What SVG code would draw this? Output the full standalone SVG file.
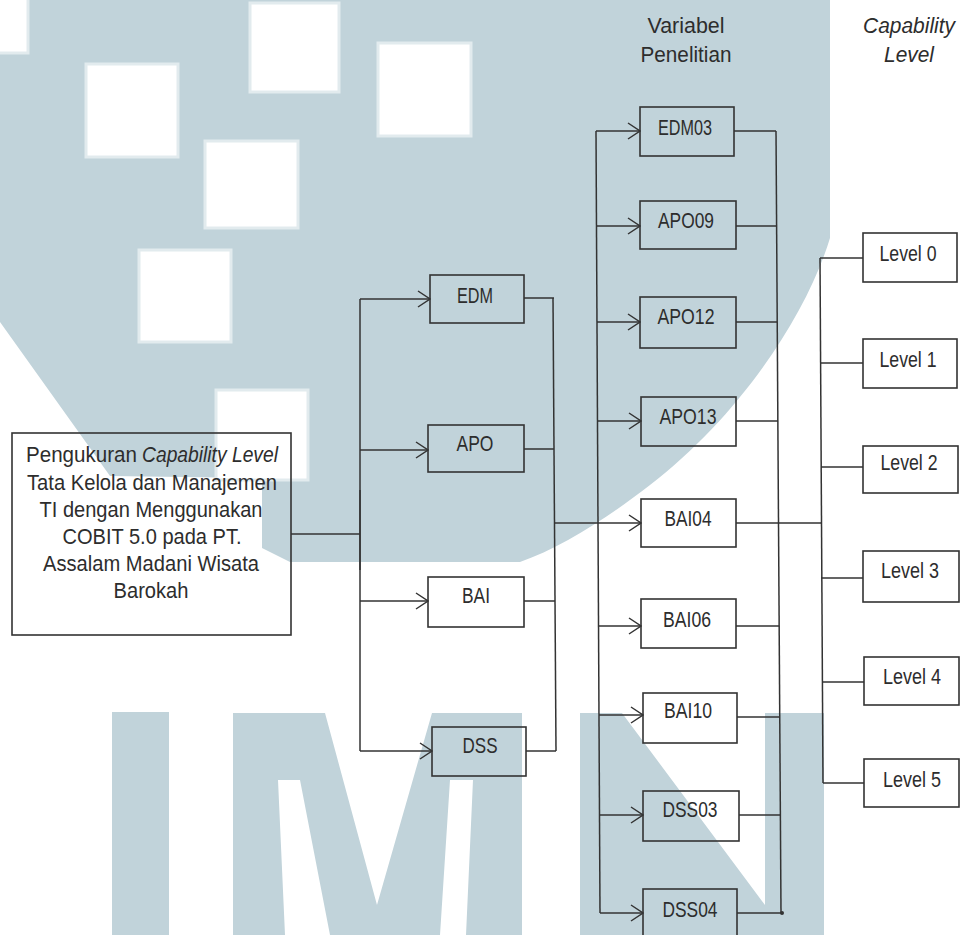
<svg xmlns="http://www.w3.org/2000/svg" width="963" height="935" viewBox="0 0 963 935">
<style>
.wm{fill:#c1d3da}
.hole{fill:#ffffff;stroke:#e2ebee;stroke-width:3}
.box{fill:none;stroke:#333;stroke-width:1.6}
.t{font-family:"Liberation Sans",Arial,sans-serif;font-size:22px;fill:#2d2d2d;text-anchor:middle}
.st{text-anchor:start}
.it{font-style:italic}
.ln{fill:none;stroke:#333;stroke-width:1.5}
</style>
<defs>
<marker id="arr" viewBox="0 0 14 18" refX="13" refY="9" markerWidth="14" markerHeight="18" markerUnits="userSpaceOnUse" orient="auto">
<path d="M1,1 L13,9 L1,17" fill="none" stroke="#333" stroke-width="1.5"/>
</marker>
</defs>
<rect width="963" height="935" fill="#ffffff"/>
<g id="watermark">
<path class="wm" d="M0,0 H830 V238 C805,320 735,420 650,485 C605,520 560,548 520,562 H290 L262,548 V478 L110,476 L0,322 Z"/>
<rect class="hole" x="-3" y="-3" width="31" height="56"/>
<rect class="hole" x="86" y="64" width="92" height="93"/>
<rect class="hole" x="250" y="3" width="89" height="89"/>
<rect class="hole" x="378" y="43" width="93" height="93"/>
<rect class="hole" x="205" y="141" width="93" height="87"/>
<rect class="hole" x="139" y="250" width="92" height="92"/>
<rect class="hole" x="216" y="390" width="92" height="90"/>
<rect class="wm" x="112" y="712" width="57" height="223"/>
<path class="wm" fill-rule="evenodd" d="M233,713 H522 V935 H233 Z M325,713 H432 L377,905 Z M278,780 H300 L330,935 H285 Z M450,780 H473 L466,935 H440 Z"/>
<path class="wm" fill-rule="evenodd" d="M580,713 H824 V935 H580 Z M622,713 H765 V905 Z"/>
</g>
<g id="connectors">
<path class="ln" d="M291,534 H360" stroke-width="3"/>
<path class="ln" d="M360,299 V751"/>
<path class="ln" d="M360,490 V570" stroke-width="2.5"/>
<path class="ln" d="M360,299 H430" marker-end="url(#arr)"/>
<path class="ln" d="M360,450 H428" marker-end="url(#arr)"/>
<path class="ln" d="M360,601 H428" marker-end="url(#arr)"/>
<path class="ln" d="M360,751 H432" marker-end="url(#arr)"/>
<path class="ln" d="M524,298 H554 M524,449 H554 M524,601 H555 M526,751 H556"/>
<path class="ln" d="M553,298 L556,751"/>
<path class="ln" d="M554,523 H641" marker-end="url(#arr)"/>
<path class="ln" d="M596,131 L600,913"/>
<path class="ln" d="M596,131 H640" marker-end="url(#arr)"/>
<path class="ln" d="M597,226 H640" marker-end="url(#arr)"/>
<path class="ln" d="M597,322 H640" marker-end="url(#arr)"/>
<path class="ln" d="M597,421 H641" marker-end="url(#arr)"/>
<path class="ln" d="M599,626 H641" marker-end="url(#arr)"/>
<path class="ln" d="M599,715 H643" marker-end="url(#arr)"/>
<path class="ln" d="M600,815 H643" marker-end="url(#arr)"/>
<path class="ln" d="M600,913 H643" marker-end="url(#arr)"/>
<path class="ln" d="M734,131 H776 M736,226 H777 M736,322 H777 M736,421 H778 M736,523 H821 M736,626 H779 M737,717 H779 M739,815 H780 M737,913 H782"/>
<path class="ln" d="M776,131 L781,913"/>
<circle cx="782" cy="913" r="2" fill="#333"/>
<path class="ln" d="M820,258 L823,783"/>
<path class="ln" d="M820,258 H863 M821,363 H863 M821,467 H863 M821,578 H863 M822,682 H864 M823,783 H864"/>
</g>
<g id="headers">
<text class="t" x="686" y="33" textLength="77" lengthAdjust="spacingAndGlyphs">Variabel</text>
<text class="t" x="686" y="62" textLength="91" lengthAdjust="spacingAndGlyphs">Penelitian</text>
<text class="t it" x="909" y="33" textLength="92" lengthAdjust="spacingAndGlyphs">Capability</text>
<text class="t it" x="909" y="62" textLength="50" lengthAdjust="spacingAndGlyphs">Level</text>
</g>
<g id="main">
<rect class="box" x="12" y="433" width="279" height="202"/>
<text class="t st" x="26" y="462" textLength="111" lengthAdjust="spacingAndGlyphs">Pengukuran</text>
<text class="t st it" x="142" y="462" textLength="136" lengthAdjust="spacingAndGlyphs">Capability Level</text>
<text class="t" x="152" y="490" textLength="250" lengthAdjust="spacingAndGlyphs">Tata Kelola dan Manajemen</text>
<text class="t" x="151" y="517" textLength="223" lengthAdjust="spacingAndGlyphs">TI dengan Menggunakan</text>
<text class="t" x="152" y="544" textLength="179" lengthAdjust="spacingAndGlyphs">COBIT 5.0 pada PT.</text>
<text class="t" x="151" y="571" textLength="216" lengthAdjust="spacingAndGlyphs">Assalam Madani Wisata</text>
<text class="t" x="151" y="598" textLength="75" lengthAdjust="spacingAndGlyphs">Barokah</text>
</g>
<g id="EDM"><rect class="box" x="430" y="275" width="94" height="48"/><text class="t" x="475" y="303" textLength="36" lengthAdjust="spacingAndGlyphs">EDM</text></g>
<g id="APO"><rect class="box" x="428" y="425" width="96" height="47"/><text class="t" x="475" y="451" textLength="37" lengthAdjust="spacingAndGlyphs">APO</text></g>
<g id="BAI"><rect class="box" x="428" y="577" width="96" height="50"/><text class="t" x="476" y="603" textLength="28" lengthAdjust="spacingAndGlyphs">BAI</text></g>
<g id="DSS"><rect class="box" x="432" y="727" width="94" height="49"/><text class="t" x="480" y="753" textLength="35" lengthAdjust="spacingAndGlyphs">DSS</text></g>
<g id="EDM03"><rect class="box" x="640" y="107" width="94" height="49"/><text class="t" x="685" y="135" textLength="54" lengthAdjust="spacingAndGlyphs">EDM03</text></g>
<g id="APO09"><rect class="box" x="640" y="201" width="96" height="48"/><text class="t" x="686" y="228" textLength="56" lengthAdjust="spacingAndGlyphs">APO09</text></g>
<g id="APO12"><rect class="box" x="640" y="297" width="96" height="51"/><text class="t" x="686" y="324" textLength="57" lengthAdjust="spacingAndGlyphs">APO12</text></g>
<g id="APO13"><rect class="box" x="641" y="397" width="95" height="49"/><text class="t" x="688" y="424" textLength="57" lengthAdjust="spacingAndGlyphs">APO13</text></g>
<g id="BAI04"><rect class="box" x="641" y="499" width="95" height="48"/><text class="t" x="688" y="526" textLength="47" lengthAdjust="spacingAndGlyphs">BAI04</text></g>
<g id="BAI06"><rect class="box" x="641" y="599" width="95" height="49"/><text class="t" x="687" y="627" textLength="48" lengthAdjust="spacingAndGlyphs">BAI06</text></g>
<g id="BAI10"><rect class="box" x="643" y="693" width="94" height="50"/><text class="t" x="688" y="718" textLength="48" lengthAdjust="spacingAndGlyphs">BAI10</text></g>
<g id="DSS03"><rect class="box" x="643" y="791" width="96" height="50"/><text class="t" x="690" y="817" textLength="55" lengthAdjust="spacingAndGlyphs">DSS03</text></g>
<g id="DSS04"><rect class="box" x="643" y="889" width="94" height="50"/><text class="t" x="690" y="917" textLength="55" lengthAdjust="spacingAndGlyphs">DSS04</text></g>
<g id="L0"><rect class="box" x="863" y="233" width="94" height="49"/><text class="t" x="908" y="261" textLength="57" lengthAdjust="spacingAndGlyphs">Level 0</text></g>
<g id="L1"><rect class="box" x="863" y="339" width="94" height="49"/><text class="t" x="908" y="367" textLength="57" lengthAdjust="spacingAndGlyphs">Level 1</text></g>
<g id="L2"><rect class="box" x="863" y="446" width="95" height="47"/><text class="t" x="909" y="470" textLength="57" lengthAdjust="spacingAndGlyphs">Level 2</text></g>
<g id="L3"><rect class="box" x="863" y="551" width="96" height="51"/><text class="t" x="910" y="578" textLength="58" lengthAdjust="spacingAndGlyphs">Level 3</text></g>
<g id="L4"><rect class="box" x="864" y="657" width="95" height="48"/><text class="t" x="912" y="684" textLength="58" lengthAdjust="spacingAndGlyphs">Level 4</text></g>
<g id="L5"><rect class="box" x="864" y="759" width="95" height="48"/><text class="t" x="912" y="787" textLength="58" lengthAdjust="spacingAndGlyphs">Level 5</text></g>
</svg>
